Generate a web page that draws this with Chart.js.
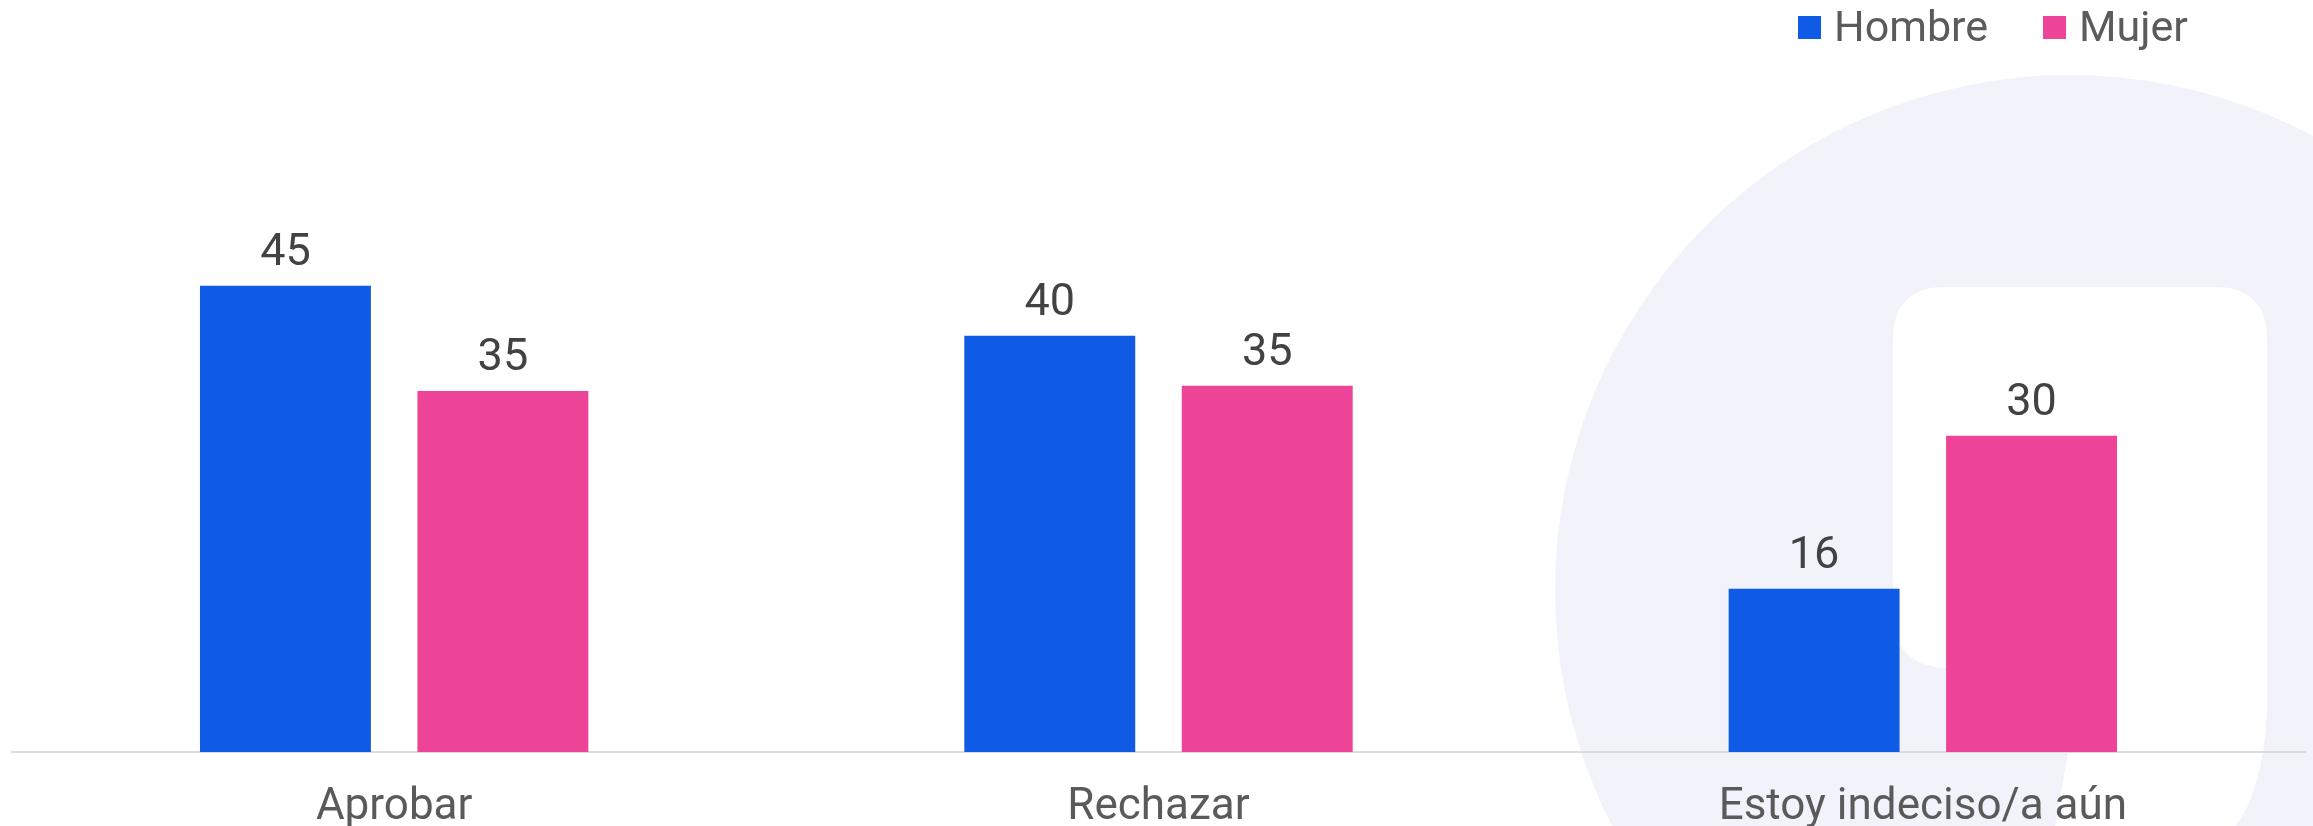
<!DOCTYPE html>
<html>
<head>
<meta charset="utf-8">
<script src="https://cdn.jsdelivr.net/npm/chart.js@4.4.1/dist/chart.umd.min.js"></script>
<style>
  body { margin: 0; background: #fff; }
  #wrap { position: relative; width: 2313px; height: 826px; }
  #legend {
    position: absolute; left: 1798px; top: 5px;
    display: flex; align-items: center;
    font: 43px/42px Roboto, sans-serif; color: #5b5b5b;
  }
  #legend .item { display: flex; align-items: center; margin-right: 55px; }
  #legend .box { width: 23px; height: 23px; margin-right: 13px; margin-top: 2px; }
</style>
</head>
<body>
<div id="wrap">
  <canvas id="myChart" width="2313" height="826"></canvas>
  <div id="legend"></div>
</div>
<script>
const categories = ['Aprobar', 'Rechazar', 'Estoy indeciso/a aún'];
const seriesNames = ['Hombre', 'Mujer'];
const hombre = [44.8, 40.0, 15.7];
const mujer = [34.7, 35.2, 30.4];

const COLORS = {
    blue: '#0f5be6',
    pink: '#ed4497',
    text: '#424242',
    tick: '#5a5a5a',
    axis: '#dcdcdc',
    mark: '#f2f3fa'
};

// light logo in the back, right side
const watermark = {
    id: 'watermark',
    beforeDraw(chart) {
        const ctx = chart.ctx;
        ctx.save();
        ctx.fillStyle = COLORS.mark;
        ctx.beginPath();
        ctx.arc(2070, 590, 515, 0, Math.PI * 2);
        ctx.fill();
        ctx.fillStyle = '#ffffff';
        ctx.beginPath();
        ctx.moveTo(1945, 287);
        ctx.lineTo(2215, 287);
        ctx.quadraticCurveTo(2267, 287, 2267, 340);
        ctx.lineTo(2267, 715);
        ctx.quadraticCurveTo(2262, 790, 2236, 826);
        ctx.lineTo(2055, 826);
        ctx.lineTo(2072, 730);
        ctx.quadraticCurveTo(2080, 668, 2040, 668);
        ctx.lineTo(1950, 668);
        ctx.quadraticCurveTo(1893, 668, 1893, 612);
        ctx.lineTo(1893, 340);
        ctx.quadraticCurveTo(1893, 287, 1945, 287);
        ctx.fill();
        ctx.restore();
    }
};

// value labels above the bars
const barLabels = {
    id: 'barLabels',
    afterDatasetsDraw(chart) {
        const ctx = chart.ctx;
        ctx.save();
        ctx.font = '45px Roboto';
        ctx.fillStyle = COLORS.text;
        ctx.textAlign = 'center';
        ctx.textBaseline = 'alphabetic';
        chart.data.datasets.forEach((ds, i) => {
            chart.getDatasetMeta(i).data.forEach((bar, j) => {
                ctx.fillText(Math.round(ds.data[j]), bar.x, bar.y - 21);
            });
        });
        ctx.restore();
    }
};

const data = {
    labels: categories,
    datasets: [
        {
            label: seriesNames[0],
            data: hombre,
            backgroundColor: COLORS.blue,
            categoryPercentage: 0.569,
            barPercentage: 0.786,
        },
        {
            label: seriesNames[1],
            data: mujer,
            backgroundColor: COLORS.pink,
            categoryPercentage: 0.569,
            barPercentage: 0.786,
        }
    ]
};

const config = {
    type: 'bar',
    data: data,
    options: {
        responsive: false,
        animation: false,
        layout: {
            padding: { left: 12, right: 8, top: 60, bottom: 0 }
        },
        plugins: {
            legend: { display: false },
            tooltip: { enabled: false }
        },
        scales: {
            x: {
                grid: { display: false, drawTicks: false },
                border: { display: true, color: COLORS.axis, width: 2 },
                ticks: {
                    color: COLORS.tick,
                    padding: 34,
                    font: { family: 'Roboto', size: 44, lineHeight: 1 }
                },
                afterFit(scale) {
                    scale.height = 74;
                }
            },
            y: {
                display: false,
                min: 0,
                max: 66.5
            }
        }
    },
    plugins: [watermark, barLabels]
};

const myChart = new Chart(document.getElementById('myChart'), config);

// legend drawn as html, top right
const legendEl = document.getElementById('legend');
myChart.data.datasets.forEach(ds => {
    const item = document.createElement('span');
    item.className = 'item';
    const box = document.createElement('span');
    box.className = 'box';
    box.style.background = ds.backgroundColor;
    item.appendChild(box);
    item.appendChild(document.createTextNode(ds.label));
    legendEl.appendChild(item);
});
</script>
</body>
</html>
